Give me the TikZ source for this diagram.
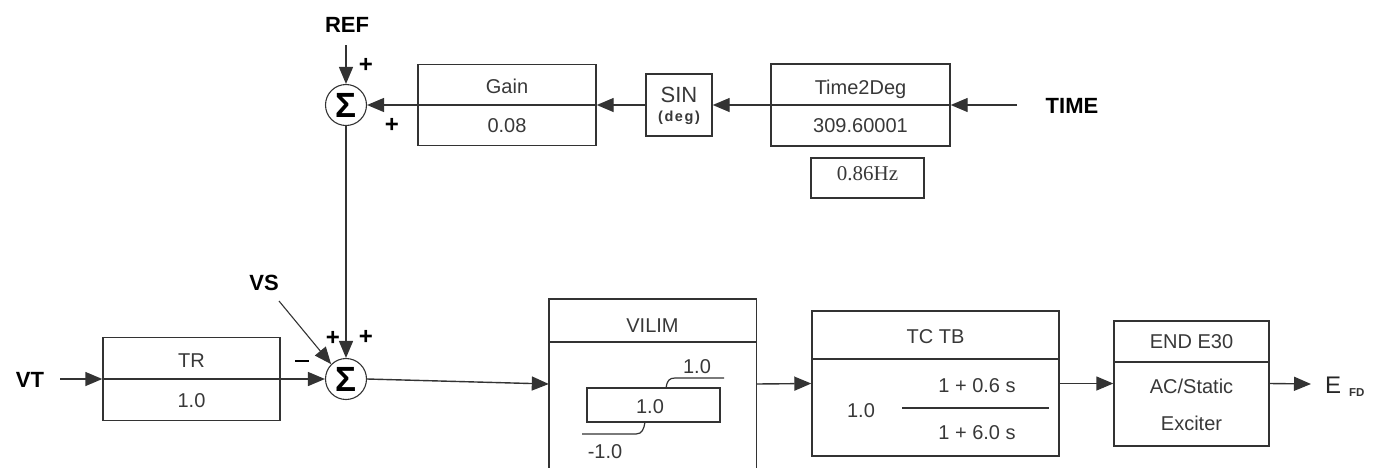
\documentclass[tikz,border=0pt]{standalone}
\usepackage{fontspec}
\setmainfont{Liberation Sans}
\newfontfamily\hzfont{Liberation Serif}
\usetikzlibrary{arrows.meta}

\begin{document}
\begin{tikzpicture}[x=1pt,y=-1pt,
  wire/.style={line width=1.4pt, draw=black!80},
  thinwire/.style={line width=1.2pt, draw=black!80},
  arr/.style={wire, -{Triangle[length=17pt,width=14pt]}},
  blk/.style={draw=black!80, line width=1.4pt, rectangle, inner sep=0pt},
  txt/.style={font=\fontsize{20}{24}\selectfont, text=black!78, inner sep=0pt, anchor=base},
  lbl/.style={font=\fontsize{22}{26}\selectfont\bfseries, inner sep=0pt, anchor=base},
  sgn/.style={font=\fontsize{24}{26}\selectfont\bfseries, inner sep=0pt},
  sumjct/.style={circle, draw=black!80, line width=1.1pt, minimum size=41pt,
    inner sep=0pt, font=\fontsize{35}{38}\selectfont\bfseries}
]
\useasboundingbox (0,0) rectangle (1377,467);

% ---------- upper path: TIME -> Time2Deg -> SIN -> Gain -> sum ----------
\node[sumjct] (sumA) at (346,105) {Σ};
\node[blk, minimum width=178pt, minimum height=81pt] (gain) at (507,105) {};
\node[blk, minimum width=66pt, minimum height=62pt] (sin) at (679,105) {};
\node[blk, minimum width=179pt, minimum height=82pt] (t2d) at (860.5,105) {};
\node[blk, minimum width=113pt, minimum height=40pt] (hz) at (867.5,178) {};
\coordinate (timein) at (1017,105);
\coordinate (refin) at (346,45);

\draw[wire] (gain.west) -- (gain.east);
\draw[wire] (t2d.west) -- (t2d.east);

\node[txt] (gaint) at (507,93) {Gain};
\node[txt] (gainv) at (507,132) {0.08};
\node[txt, font=\fontsize{22}{24}\selectfont] (sint) at (679,102) {SIN};
\node[txt, font=\fontsize{14.5}{16}\selectfont\bfseries] (sinu) at (679,121)
  {(\kern1.6pt d\kern1.6pt e\kern1.6pt g\kern1.6pt)};
\node[txt] (t2dt) at (860.5,94) {Time2Deg};
\node[txt] (t2dv) at (860.5,132) {309.60001};
\node[txt, font=\fontsize{21}{24}\hzfont] (hzt) at (867.5,180) {0.86Hz};

\node[lbl] (reft) at (347,32) {REF};
\node[lbl] (timet) at (1072,113) {TIME};
\node[sgn] (pA1) at (366,65) {+};
\node[sgn] (pA2) at (392,125) {+};

\draw[arr] (timein) -- (t2d.east);
\draw[arr] (t2d.west) -- (sin.east);
\draw[arr] (sin.west) -- (gain.east);
\draw[arr] (gain.west) -- (sumA.east);
\draw[arr] (refin) -- (sumA.north);

% ---------- lower path: VT -> TR -> sum -> VILIM -> TC TB -> exciter ----------
\node[sumjct] (sumB) at (346,379) {Σ};
\node[blk, minimum width=177pt, minimum height=83pt] (tr) at (191.5,379) {};
\coordinate (vtin) at (60,379);
\coordinate (vsfrom) at (279,301);

\draw[wire] (tr.west) -- (tr.east);
\node[txt] (trt) at (191.5,367) {TR};
\node[txt] (trv) at (191.5,407) {1.0};

\node[lbl] (vtt) at (30,387) {VT};
\node[lbl] (vst) at (264,290) {VS};
\node[sgn] (mB) at (302,361) {\rule{14pt}{2.6pt}};
\node[sgn] (pB1) at (333,338) {+};
\node[sgn] (pB2) at (366,337) {+};

\draw[arr] (vtin) -- (tr.west);
\draw[arr] (tr.east) -- (sumB.west);
\draw[arr, line width=1.1pt] (vsfrom) -- (sumB.135);
\draw[arr] (sumA.south) -- (sumB.north);

% limiter block, open at the lower edge
\node[minimum width=207pt, minimum height=170pt, inner sep=0pt] (vilim) at (652.5,384) {};
\draw[wire] (vilim.south west) -- (vilim.north west) -- (vilim.north east) -- (vilim.south east);
\draw[wire] (549,342) -- (756,342);
\node[txt] (vilimt) at (652.5,332) {VILIM};
\node[draw=black!80, thinwire, minimum width=133pt, minimum height=34pt, inner sep=0pt] (lim) at (653.5,405) {};
\node[txt] (limv) at (650,413) {1.0};
\draw[thinwire] (666,388) .. controls (667,381) and (669,378) .. (675,378) -- (724,378);
\draw[thinwire] (645,422) .. controls (644,429) and (642,434) .. (636,434) -- (582,434);
\node[txt] (limhi) at (697,373) {1.0};
\node[txt] (limlo) at (605,458) {-1.0};

% lead-lag block
\node[blk, minimum width=247pt, minimum height=145pt] (tctb) at (935.5,383.5) {};
\draw[wire] (812,359) -- (1059,359);
\node[txt] (tctbt) at (935.5,343) {TC TB};
\node[txt] (tcgain) at (861,417) {1.0};
\draw[thinwire] (902,408) -- (1049,408);
\node[txt] (tcnum) at (977,392) {1 + 0.6 s};
\node[txt] (tcden) at (977,439) {1 + 6.0 s};

% exciter block
\node[blk, minimum width=155pt, minimum height=125pt] (exc) at (1191.5,383.5) {};
\draw[wire] (1114,362) -- (1269,362);
\node[txt] (exct) at (1191.5,348) {END E30};
\node[txt] (exc1) at (1191.5,393) {AC/Static};
\node[txt] (exc2) at (1191.5,430) {Exciter};

\coordinate (efd) at (1311,384);
\node[inner sep=0pt, anchor=base west, font=\fontsize{24}{26}\selectfont, text=black!85] (et) at (1325,393) {E};
\node[inner sep=0pt, anchor=base west, font=\fontsize{11.5}{13}\selectfont\bfseries, text=black!80] (fdt) at (1349,396) {FD};

\draw[arr] (sumB.east) -- (vilim.west);
\draw[arr] (vilim.east) -- (tctb.west);
\draw[arr] (tctb.east) -- (exc.west);
\draw[arr] (exc.east) -- (efd);
\end{tikzpicture}
\end{document}
